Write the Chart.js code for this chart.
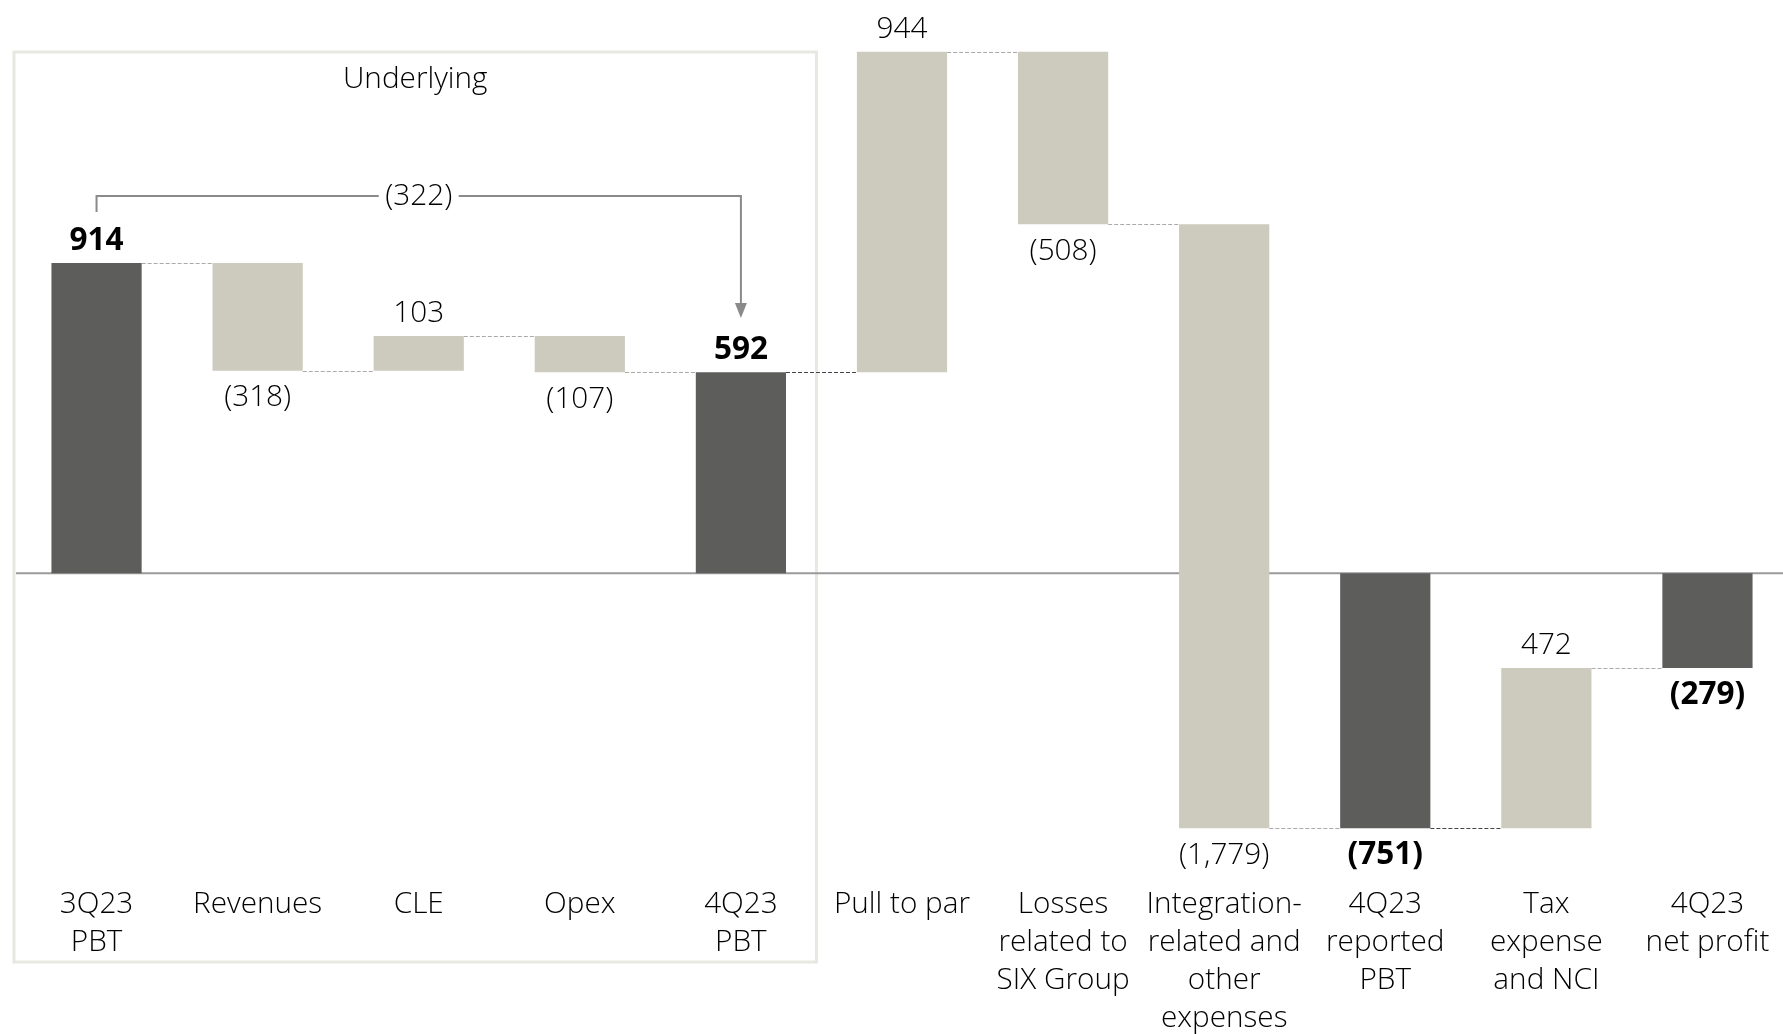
<!DOCTYPE html>
<html>
<head>
<meta charset="utf-8">
<script src="https://cdn.jsdelivr.net/npm/chart.js@4"></script>
<style>
  html, body { margin: 0; padding: 0; background: #fff; overflow: hidden; }
  #wrap { width: 1792px; height: 1034px; position: relative; }
</style>
</head>
<body>
<div id="wrap"><canvas id="c"></canvas></div>
<script>
const categories = [
  ['3Q23', 'PBT'],
  ['Revenues'],
  ['CLE'],
  ['Opex'],
  ['4Q23', 'PBT'],
  ['Pull to par'],
  ['Losses', 'related to', 'SIX Group'],
  ['Integration-', 'related and', 'other', 'expenses'],
  ['4Q23', 'reported', 'PBT'],
  ['Tax', 'expense', 'and NCI'],
  ['4Q23', 'net profit']
];
const values = [914, -318, 103, -107, 592, 944, -508, -1779, -751, 472, -279];
const isTotal = [true, false, false, false, true, false, false, false, true, false, true];
const underlyingTitle = 'Underlying';
const underlyingChange = -322;

const FONT = "'Open Sans', 'Noto Sans', 'Liberation Sans', sans-serif";
const FSIZE = 30;
const BOLD_SIZE = 31.5;
const SCALE_X = 0.99;
const DARK = '#5d5e5c';
const LIGHT = '#cccbbe';
const TEXT = '#000';

// running totals -> floating bars
const floating = [];
let running = 0;
values.forEach((v, i) => {
  if (isTotal[i]) { floating.push([0, v]); running = v; }
  else { floating.push([running, running + v]); running += v; }
});

function fmt(v) {
  const s = Math.abs(v).toLocaleString('en-US');
  return v < 0 ? '(' + s + ')' : s;
}

function drawText(ctx, text, cx, cy, bold) {
  ctx.save();
  ctx.fillStyle = TEXT;
  ctx.textAlign = 'center';
  ctx.textBaseline = 'middle';
  if (bold) {
    ctx.font = 'bold ' + BOLD_SIZE + 'px ' + FONT;
    ctx.fillText(text, cx, cy);
  } else {
    ctx.font = '300 ' + FSIZE + 'px ' + FONT;
    ctx.translate(cx, cy);
    ctx.scale(SCALE_X, 1);
    ctx.fillText(text, 0, 0);
  }
  ctx.restore();
}

const decor = {
  id: 'decor',
  beforeDatasetsDraw(chart) {
    const { ctx, chartArea, scales: { x, y } } = chart;
    const half = (x.getPixelForValue(1) - x.getPixelForValue(0)) / 2;
    ctx.save();
    // Underlying box
    const bl = x.getPixelForValue(0) - half - 2;
    const br = x.getPixelForValue(4) + half - 5;
    const bt = chartArea.top + 22;
    const bb = 962;
    ctx.strokeStyle = '#e8e8e2';
    ctx.lineWidth = 3;
    ctx.strokeRect(bl, bt, br - bl, bb - bt);
    drawText(ctx, underlyingTitle, (bl + br) / 2, 79, false);
    // zero line
    const y0 = y.getPixelForValue(0);
    ctx.strokeStyle = '#9a9a9a';
    ctx.lineWidth = 2;
    ctx.beginPath();
    ctx.moveTo(chartArea.left, y0);
    ctx.lineTo(chart.width, y0);
    ctx.stroke();
    // connectors
    const meta = chart.getDatasetMeta(0);
    for (let i = 0; i < floating.length - 1; i++) {
      const lvl = floating[i][1];
      const yy = Math.round(y.getPixelForValue(lvl)) + 0.5;
      const x1 = meta.data[i].x + meta.data[i].width / 2;
      const x2 = meta.data[i + 1].x - meta.data[i + 1].width / 2;
      ctx.strokeStyle = (i === 4 || i === 8) ? '#444' : '#aaa';
      ctx.lineWidth = 1;
      ctx.setLineDash([4, 2]);
      ctx.beginPath();
      ctx.moveTo(x1, yy);
      ctx.lineTo(x2, yy);
      ctx.stroke();
    }
    ctx.setLineDash([]);
    ctx.restore();
  },
  afterDatasetsDraw(chart) {
    const { ctx, chartArea, scales: { x, y } } = chart;
    ctx.save();
    // value labels
    values.forEach((v, i) => {
      const [a, b] = floating[i];
      const top = y.getPixelForValue(Math.max(a, b));
      const bot = y.getPixelForValue(Math.min(a, b));
      const cx = x.getPixelForValue(i);
      if (v >= 0) drawText(ctx, fmt(v), cx, top - 22, isTotal[i]);
      else drawText(ctx, fmt(v), cx, bot + 27, isTotal[i]);
    });
    // category labels
    const lineH = 38.3;
    categories.forEach((lines, i) => {
      const cx = x.getPixelForValue(i);
      lines.forEach((t, k) => drawText(ctx, t, cx, chartArea.bottom + 32 + k * lineH, false));
    });
    // bracket (322)
    const xa = x.getPixelForValue(0), xb = x.getPixelForValue(4), xm = x.getPixelForValue(2);
    const yTop = 196;
    ctx.strokeStyle = '#8a8a8a';
    ctx.fillStyle = '#8a8a8a';
    ctx.lineWidth = 2;
    ctx.beginPath();
    ctx.moveTo(xa, 212);
    ctx.lineTo(xa, yTop);
    ctx.lineTo(xm - 40, yTop);
    ctx.moveTo(xm + 40, yTop);
    ctx.lineTo(xb, yTop);
    ctx.lineTo(xb, 304);
    ctx.stroke();
    ctx.beginPath();
    ctx.moveTo(xb - 6, 303);
    ctx.lineTo(xb + 6, 303);
    ctx.lineTo(xb, 318);
    ctx.closePath();
    ctx.fill();
    drawText(ctx, fmt(underlyingChange), xm, yTop, false);
    ctx.restore();
  }
};

new Chart(document.getElementById('c'), {
  type: 'bar',
  data: {
    labels: categories,
    datasets: [{
      data: floating,
      backgroundColor: isTotal.map(t => t ? DARK : LIGHT),
      borderWidth: 0,
      categoryPercentage: 1.0,
      barPercentage: 0.56,
      borderSkipped: false
    }]
  },
  options: {
    responsive: true,
    maintainAspectRatio: false,
    animation: false,
    layout: { padding: { left: 16, right: 4, top: 30, bottom: 0 } },
    plugins: { legend: { display: false }, tooltip: { enabled: false } },
    scales: {
      x: {
        grid: { display: false },
        border: { display: false },
        ticks: { display: false },
        afterFit: s => { s.height = 162; }
      },
      y: {
        display: false,
        min: -880,
        max: 1600
      }
    }
  },
  plugins: [decor]
});
</script>
</body>
</html>
